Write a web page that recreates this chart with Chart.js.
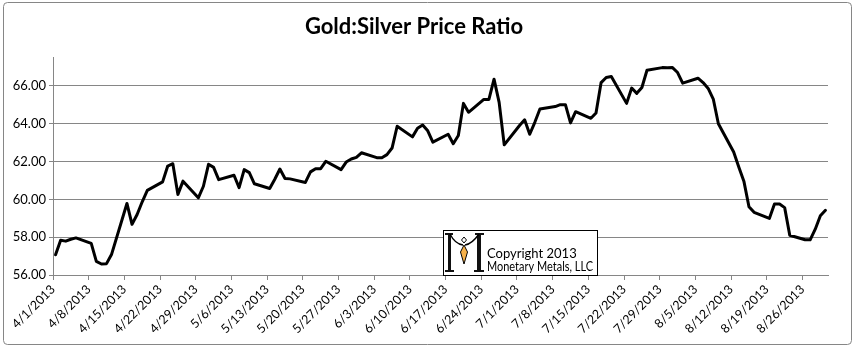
<!DOCTYPE html>
<html>
<head>
<meta charset="utf-8">
<title>Gold:Silver Price Ratio</title>
<script src="https://cdn.jsdelivr.net/npm/chart.js@4.4.1/dist/chart.umd.min.js"></script>
<style>
    html, body { margin: 0; padding: 0; background: #fff; }
    #wrap { width: 854px; height: 347px; }
</style>
</head>
<body>
<div id="wrap"><canvas id="ratioChart" width="854" height="347"></canvas></div>
<script>
// Monday tick labels, one per week
var tickLabels = ['4/1/2013', '4/8/2013', '4/15/2013', '4/22/2013', '4/29/2013', '5/6/2013',
    '5/13/2013', '5/20/2013', '5/27/2013', '6/3/2013', '6/10/2013', '6/17/2013', '6/24/2013',
    '7/1/2013', '7/8/2013', '7/15/2013', '7/22/2013', '7/29/2013', '8/5/2013', '8/12/2013',
    '8/19/2013', '8/26/2013'];

// gold:silver ratio, one value per weekday (Mon-Fri) starting 4/1/2013
var ratio = [
    57.07, 57.84, 57.79, 57.89, 57.96,
    57.67, 56.72, 56.58, 56.60, 57.10,
    59.78, 58.68, 59.20, 59.87, 60.47,
    60.92, 61.76, 61.88, 60.26, 60.96,
    60.08, 60.69, 61.85, 61.69, 61.04,
    61.27, 60.62, 61.57, 61.41, 60.82,
    60.57, 61.06, 61.60, 61.10, 61.08,
    60.89, 61.45, 61.62, 61.62, 62.01,
    61.57, 61.97, 62.13, 62.22, 62.46,
    62.20, 62.20, 62.36, 62.71, 63.86,
    63.30, 63.76, 63.93, 63.62, 63.02,
    63.44, 62.94, 63.37, 65.07, 64.60,
    65.28, 65.28, 66.35, 65.12, 62.88,
    63.90, 64.20, 63.44, 64.07, 64.77,
    64.90, 65.00, 65.00, 64.04, 64.63,
    64.28, 64.56, 66.17, 66.44, 66.49,
    65.07, 65.88, 65.60, 65.91, 66.82,
    66.96, 66.95, 66.96, 66.70, 66.14,
    66.40, 66.17, 65.86, 65.30, 63.99,
    62.50, 61.71, 60.96, 59.61, 59.31,
    58.99, 59.75, 59.75, 59.56, 58.10,
    57.86, 57.86, 58.42, 59.13, 59.42
];

var fontName = 'Lato';

// calendar day since 4/1 for each weekday, centred in its day slot
var points = ratio.map(function(v, i) {
    return { x: Math.floor(i / 5) * 7 + (i % 5) + 0.5, y: v };
});

var frame = {
    id: 'frame',
    beforeDraw: function(chart) {
        var ctx = chart.ctx;
        ctx.save();
        ctx.fillStyle = '#fff';
        ctx.fillRect(0, 0, chart.width, chart.height);
        ctx.strokeStyle = '#868686';
        ctx.lineWidth = 1;
        ctx.beginPath();
        ctx.roundRect(3.5, 2.5, 848, 342, 4);
        ctx.stroke();
        ctx.restore();
    }
};

// copyright box with the little "M" logo
var logoBox = {
    id: 'logoBox',
    afterDraw: function(chart) {
        var ctx = chart.ctx;
        ctx.save();
        ctx.fillStyle = '#fff';
        ctx.fillRect(443, 230, 154, 45);
        ctx.strokeStyle = '#000';
        ctx.lineWidth = 1;
        ctx.strokeRect(443.5, 230.5, 154, 45);

        // M stems and serifs
        ctx.fillStyle = '#111';
        ctx.fillRect(448, 234, 3, 38);
        ctx.fillRect(477, 234, 4, 38);
        ctx.fillRect(445, 233, 8, 2);
        ctx.fillRect(475, 233, 9, 2);
        ctx.fillRect(445, 270, 9, 2);
        ctx.fillRect(474, 270, 10, 2);
        ctx.lineWidth = 1.4;
        ctx.beginPath();
        ctx.moveTo(450, 234);
        ctx.quadraticCurveTo(455, 244, 463, 245);
        ctx.moveTo(479, 234);
        ctx.quadraticCurveTo(472, 244, 465, 245);
        ctx.stroke();
        // small diamond
        ctx.lineWidth = 1;
        ctx.beginPath();
        ctx.moveTo(464, 237); ctx.lineTo(466.5, 240); ctx.lineTo(464, 243); ctx.lineTo(461.5, 240);
        ctx.closePath();
        ctx.stroke();
        // pendant
        ctx.fillStyle = '#f6b14a';
        ctx.beginPath();
        ctx.moveTo(464, 245); ctx.lineTo(467.5, 252); ctx.lineTo(464, 264); ctx.lineTo(460.5, 252);
        ctx.closePath();
        ctx.fill();
        ctx.stroke();

        ctx.fillStyle = '#000';
        ctx.font = '13px ' + fontName;
        ctx.textBaseline = 'alphabetic';
        ctx.fillText('Copyright 2013', 487, 258);
        ctx.fillText('Monetary Metals, LLC', 487, 271, 106);
        ctx.restore();
    }
};

new Chart(document.getElementById('ratioChart').getContext('2d'), {
    type: 'line',
    data: {
        datasets: [{
            data: points,
            borderColor: '#000',
            borderWidth: 3,
            borderJoinStyle: 'round',
            borderCapStyle: 'round',
            pointRadius: 0,
            tension: 0,
            fill: false
        }]
    },
    options: {
        responsive: false,
        animation: false,
        devicePixelRatio: 1,
        layout: {
            padding: { top: 0, right: 26, bottom: 0, left: 0 }
        },
        plugins: {
            legend: { display: false },
            tooltip: { enabled: false },
            title: {
                display: true,
                text: 'Gold:Silver Price Ratio',
                color: '#000',
                font: { family: fontName, size: 22, weight: 'bold' },
                padding: { top: 14, bottom: 17 }
            }
        },
        scales: {
            x: {
                type: 'linear',
                min: 0,
                max: 152,
                afterBuildTicks: function(scale) {
                    scale.ticks = scale.ticks.filter(function(t) { return t.value % 7 === 0; });
                },
                afterFit: function(scale) { scale.height = 72; },
                grid: { drawOnChartArea: false, color: '#868686', tickLength: 5 },
                border: { color: '#868686' },
                ticks: {
                    stepSize: 7,
                    autoSkip: false,
                    minRotation: 45,
                    maxRotation: 45,
                    padding: 2,
                    color: '#000',
                    font: { family: fontName, size: 12.5 },
                    callback: function(value) { return tickLabels[value / 7]; }
                }
            },
            y: {
                min: 56,
                max: 67.5,
                afterBuildTicks: function(scale) {
                    scale.ticks = scale.ticks.filter(function(t) { return t.value <= 66; });
                },
                afterFit: function(scale) { scale.width = 53; },
                grid: { color: '#868686', tickLength: 4 },
                border: { color: '#868686' },
                ticks: {
                    stepSize: 2,
                    padding: 3,
                    color: '#000',
                    font: { family: fontName, size: 13 },
                    callback: function(value) { return value.toFixed(2); }
                }
            }
        }
    },
    plugins: [frame, logoBox]
});
</script>
</body>
</html>
